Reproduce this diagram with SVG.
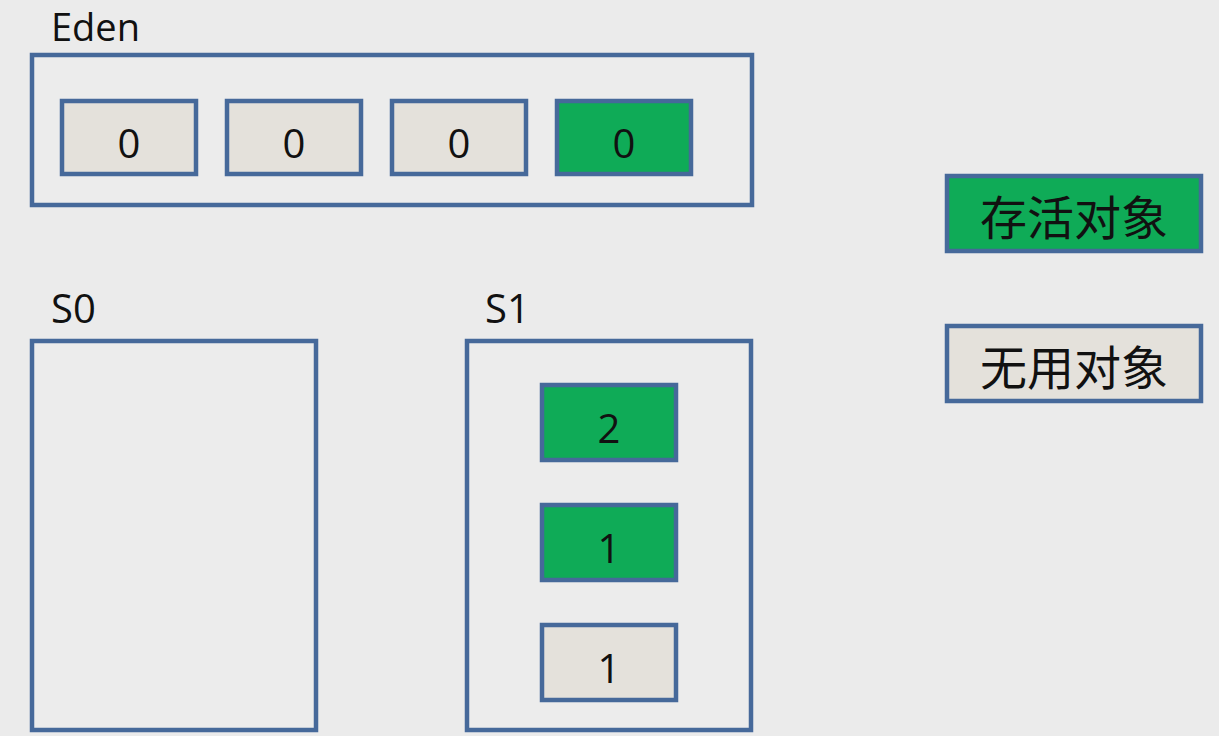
<svg xmlns="http://www.w3.org/2000/svg" width="1219" height="736" viewBox="0 0 1219 736">
<style>
.bg{fill:#ebebeb}
.area{fill:#ececec;stroke:#46699a;stroke-width:4.5}
.live{fill:#0fab57;stroke:#46699a;stroke-width:4.5}
.dead{fill:#e4e1db;stroke:#46699a;stroke-width:4.5}
.lbl{font-family:"Open Sans","Liberation Sans",sans-serif;font-size:40px;fill:#111}
.num{font-family:"Open Sans","Liberation Sans",sans-serif;font-size:40px;fill:#111;text-anchor:middle}
.cjk{font-family:"Noto Sans CJK SC",sans-serif;font-size:47px;fill:#111;text-anchor:middle;dominant-baseline:central}
</style>
<rect class="bg" x="0" y="0" width="1219" height="736"/>
<g id="eden">
<text class="lbl" x="51" y="41" style="font-size:38px">Eden</text>
<rect class="area" x="32" y="55" width="720" height="150"/>
</g>
<g id="eden-obj1"><rect class="dead" x="62" y="101" width="134" height="73"/><text class="num" x="129" y="158">0</text></g>
<g id="eden-obj2"><rect class="dead" x="227" y="101" width="134" height="73"/><text class="num" x="294" y="158">0</text></g>
<g id="eden-obj3"><rect class="dead" x="392" y="101" width="134" height="73"/><text class="num" x="459" y="158">0</text></g>
<g id="eden-obj4"><rect class="live" x="557" y="101" width="134" height="73"/><text class="num" x="624" y="158">0</text></g>
<g id="s0">
<text class="lbl" x="51" y="323">S0</text>
<rect class="area" x="32" y="341" width="284" height="389"/>
</g>
<g id="s1">
<text class="lbl" x="485" y="323">S1</text>
<rect class="area" x="467" y="341" width="284" height="389"/>
</g>
<g id="s1-obj1"><rect class="live" x="542" y="385" width="134" height="75"/><text class="num" x="609" y="443">2</text></g>
<g id="s1-obj2"><rect class="live" x="542" y="505" width="134" height="75"/><text class="num" x="609" y="563">1</text></g>
<g id="s1-obj3"><rect class="dead" x="542" y="625" width="134" height="75"/><text class="num" x="609" y="683">1</text></g>
<g id="legend-live"><rect class="live" x="947" y="176" width="254" height="75"/><text class="cjk" x="1074" y="214">存活对象</text></g>
<g id="legend-dead"><rect class="dead" x="947" y="326" width="254" height="75"/><text class="cjk" x="1074" y="364">无用对象</text></g>
<g id="connectors"></g>
</svg>
